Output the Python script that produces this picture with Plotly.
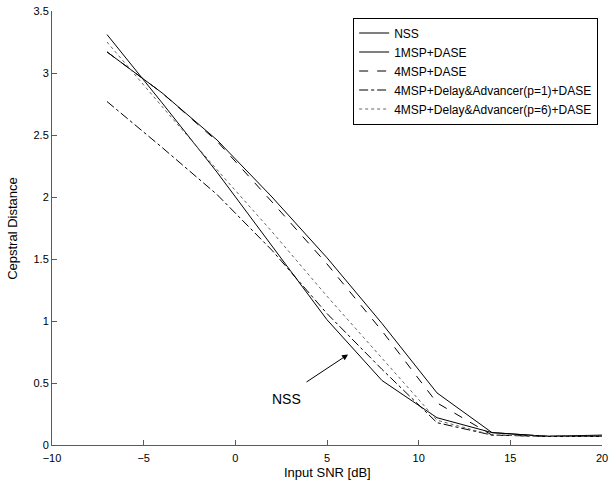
import plotly.graph_objects as go

snr = [-7, -4, -1, 2, 5, 8, 11, 14, 17, 20]

nss = [3.31, 2.76, 2.20, 1.60, 1.01, 0.52, 0.22, 0.10, 0.07, 0.07]
msp1_dase = [3.17, 2.84, 2.46, 2.00, 1.51, 0.98, 0.42, 0.10, 0.07, 0.08]
msp4_dase = [3.17, 2.84, 2.45, 1.96, 1.46, 0.92, 0.34, 0.08, 0.07, 0.07]
msp4_da_p1 = [2.77, 2.40, 2.02, 1.57, 1.06, 0.61, 0.18, 0.08, 0.07, 0.07]
msp4_da_p6 = [3.25, 2.73, 2.22, 1.72, 1.20, 0.70, 0.20, 0.08, 0.07, 0.07]

series = [
    ('NSS', nss, 'solid', 'black'),
    ('1MSP+DASE', msp1_dase, 'solid', 'black'),
    ('4MSP+DASE', msp4_dase, 'dash', 'black'),
    ('4MSP+Delay&Advancer(p=1)+DASE', msp4_da_p1, 'dashdot', 'black'),
    ('4MSP+Delay&Advancer(p=6)+DASE', msp4_da_p6, 'dot', 'rgb(100,100,100)'),
]

x_ticks = [-10, -5, 0, 5, 10, 15, 20]
y_ticks = [0, 0.5, 1, 1.5, 2, 2.5, 3, 3.5]

FONT = 'Liberation Sans, Arial, sans-serif'

fig = go.Figure()
for name, vals, dash, colour in series:
    fig.add_trace(go.Scatter(x=snr, y=vals, mode='lines', name=name,
                             line=dict(color=colour, width=1, dash=dash)))

fig.add_annotation(x=6.15, y=0.73, ax=3.8, ay=0.5, axref='x', ayref='y',
                   showarrow=True, arrowhead=2, arrowsize=1.2, arrowwidth=1,
                   arrowcolor='black', text='')
fig.add_annotation(x=2.8, y=0.37, text='NSS', showarrow=False,
                   font=dict(size=14, color='black', family=FONT))

# axis titles placed by hand so the plot area stays fixed
fig.add_annotation(x=0.5, y=-0.063, xref='paper', yref='paper', yanchor='middle',
                   text='Input SNR [dB]', showarrow=False, font=dict(size=13))
fig.add_annotation(x=-0.073, y=0.5, xref='paper', yref='paper', xanchor='center',
                   text='Cepstral Distance', textangle=-90, showarrow=False,
                   font=dict(size=13))

fig.update_layout(
    width=613, height=483,
    margin=dict(l=52, r=11, t=11, b=38, autoexpand=False),
    paper_bgcolor='white', plot_bgcolor='white',
    font=dict(family=FONT, size=11, color='black'),
    showlegend=True,
    legend=dict(x=0.993, y=0.985, xanchor='right', yanchor='top',
                bgcolor='white', bordercolor='black', borderwidth=1,
                font=dict(size=12), tracegroupgap=0, itemwidth=30),
)
fig.update_xaxes(range=[-10, 20], tickvals=x_ticks, showgrid=False, zeroline=False,
                 showline=True, linecolor='rgb(90,90,90)', linewidth=1,
                 ticks='inside', ticklen=5, tickcolor='rgb(90,90,90)',
                 ticklabelstandoff=3, automargin=False)
fig.update_yaxes(range=[0, 3.5], tickvals=y_ticks, showgrid=False, zeroline=False,
                 showline=True, linecolor='rgb(90,90,90)', linewidth=1,
                 ticks='inside', ticklen=5, tickcolor='rgb(90,90,90)',
                 automargin=False)

# drop the browser's default 8px body margin so the figure sits at the page corner
fig.write_html('out.html', config={'displayModeBar': False},
               post_script="document.body.style.margin = '0';")
